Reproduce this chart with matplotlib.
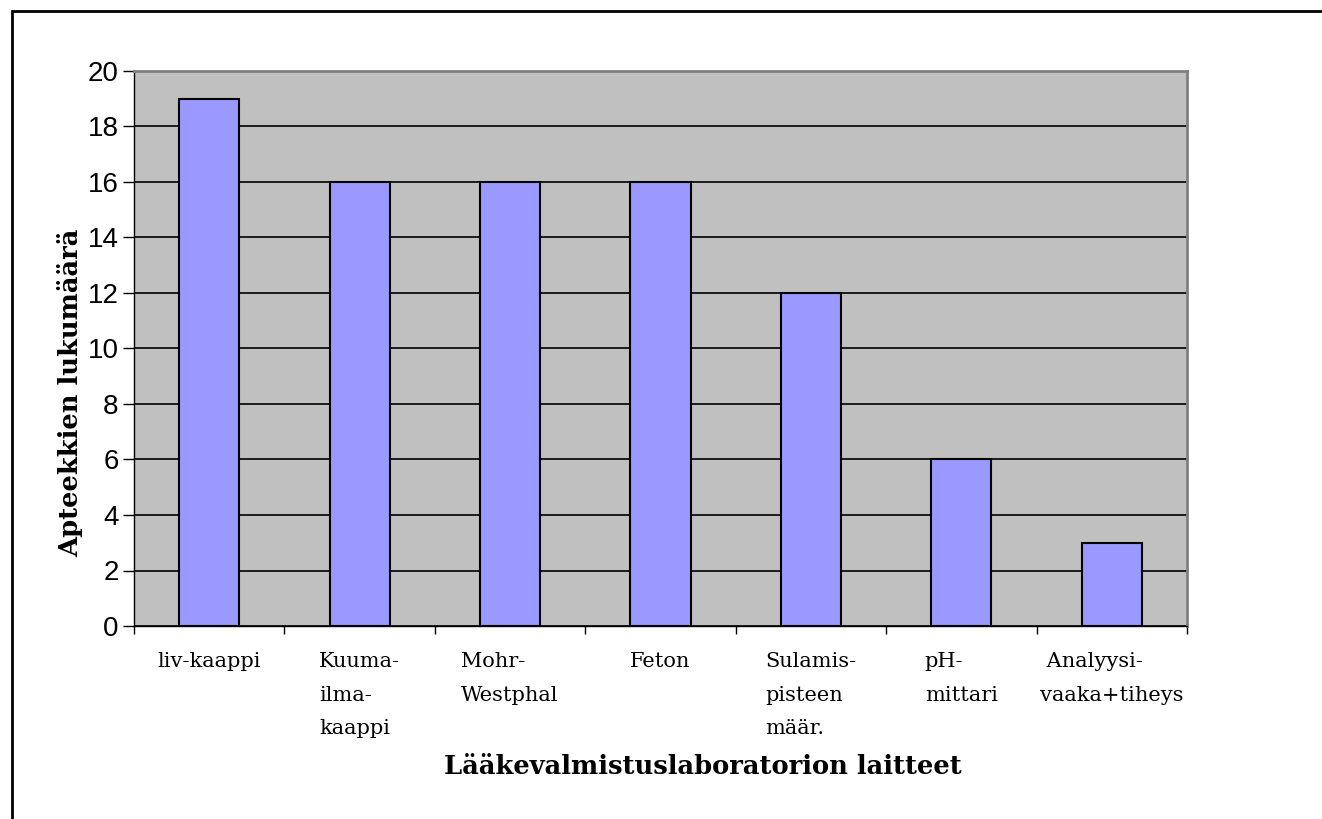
import matplotlib.pyplot as plt
from matplotlib.patches import Rectangle

laitteet = ["liv-kaappi", "Kuuma-\nilma-\nkaappi", "Mohr-\nWestphal", "Feton",
            "Sulamis-\npisteen\nmäär.", "pH-\nmittari", " Analyysi-\nvaaka+tiheys"]
apteekit = [19, 16, 16, 16, 12, 6, 3]

fig = plt.figure(figsize=(13.22, 8.19), dpi=100)
ax = fig.add_axes([134/1322, 1-626/819, (1187-134)/1322, (626-71)/819])

x = range(len(laitteet))
ax.bar(x, apteekit, width=0.4, color="#9999FF", edgecolor="black", linewidth=1.5, zorder=3)

ax.set_facecolor("#C0C0C0")
ax.set_xlim(-0.5, len(laitteet) - 0.5)
ax.set_ylim(0, 20)
ax.set_yticks(range(0, 21, 2))
ax.yaxis.grid(True, color="black", linewidth=1.2, zorder=1)
ax.set_axisbelow(True)

# category boundaries carry the ticks, labels sit in between
ax.set_xticks([i - 0.5 for i in range(len(laitteet) + 1)])
ax.set_xticklabels([])
ax.set_xticks(list(x), minor=True)
ax.set_xticklabels(laitteet, minor=True, family="DejaVu Serif", fontsize=15,
                   ha="center", multialignment="left", linespacing=1.95, va="top")
ax.tick_params(axis="x", which="minor", length=0, pad=19)
ax.tick_params(axis="x", which="major", length=6, width=1, direction="out")
ax.tick_params(axis="y", length=8, width=1, direction="out", pad=3, labelsize=20)
for t in ax.get_yticklabels():
    t.set_family("Liberation Sans")

for s in ["top", "right"]:
    ax.spines[s].set_color("#808080")
    ax.spines[s].set_linewidth(2)
ax.spines["left"].set_linewidth(1)
ax.spines["bottom"].set_linewidth(1)

ax.set_ylabel("Apteekkien lukumäärä", family="DejaVu Serif", fontweight="bold",
              fontsize=18.5, va="center", ha="center")
ax.yaxis.set_label_coords(-0.061, 0.42)
fig.text(703/1322, 1-766/819, "Lääkevalmistuslaboratorion laitteet", family="DejaVu Serif",
         fontweight="bold", fontsize=18.5, ha="center", va="center")

# chart frame
fig.patches.append(Rectangle((12/1322, -0.1), 1.2, 1.1 - 11/819, transform=fig.transFigure,
                             fill=False, edgecolor="black", linewidth=2, zorder=0))

fig.savefig("out.png", dpi=100)
